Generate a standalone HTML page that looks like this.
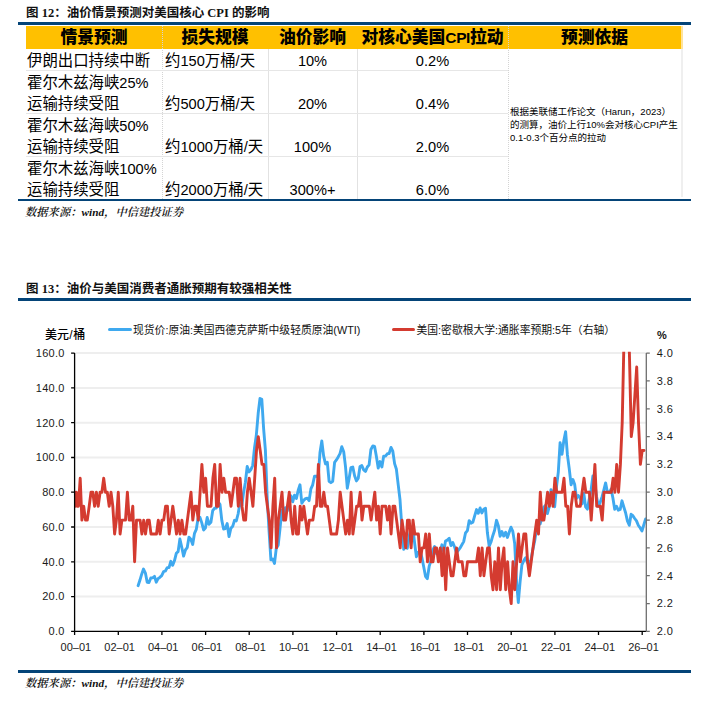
<!DOCTYPE html>
<html lang="zh-CN">
<head>
<meta charset="utf-8">
<title>油价情景预测</title>
<style>
html,body{margin:0;padding:0;background:#fff;}
body{width:712px;height:708px;position:relative;overflow:hidden;font-family:"Liberation Sans","Noto Sans CJK SC",sans-serif;color:#000;}
.abs{position:absolute;white-space:nowrap;}
.ttl{font-family:"Liberation Serif","Noto Sans CJK SC",serif;font-weight:700;font-size:12.5px;line-height:14px;color:#111;}
.bar{position:absolute;background:#044478;}
.src{font-family:"Liberation Serif","Noto Serif CJK SC",serif;font-style:italic;font-weight:600;font-size:11.3px;line-height:12px;color:#111;}
.hd{position:absolute;top:26px;height:23px;background:#FFC000;}
.ht{position:absolute;top:26px;height:23px;line-height:23px;font-weight:900;font-size:16.8px;text-align:center;}
.vl{position:absolute;width:1px;background:#e2e2e2;}
.vd{position:absolute;width:0;border-left:1px dotted #d4d4d4;}
.hl{position:absolute;height:1px;background:#e6e6e6;}
.td{position:absolute;font-size:15.4px;line-height:21px;}
.n{font-size:14.6px;}
.c{text-align:center;}
.lgt{font-size:10.8px;line-height:13px;color:#111;}
.unit{font-size:12px;line-height:14px;font-weight:500;color:#000;}
.unit2{font-size:11px;line-height:13px;font-weight:700;color:#111;}
.note{position:absolute;left:510px;top:104.6px;font-size:9.5px;line-height:13.2px;color:#000;}
</style>
</head>
<body>
<!-- Figure 12 -->
<div class="abs ttl" style="left:26px;top:6px;">图 12：油价情景预测对美国核心 CPI 的影响</div>
<div class="bar" style="left:18px;top:22px;width:673px;height:3px;"></div>

<div class="hd" style="left:26px;width:655px;"></div>
<div class="hd" style="left:681px;width:2px;background:#FFE39A;"></div>

<div class="ht" style="left:26px;width:136px;">情景预测</div>
<div class="ht" style="left:162px;width:106px;">损失规模</div>
<div class="ht" style="left:268px;width:89px;">油价影响</div>
<div class="ht" style="left:357px;width:151px;">对核心美国<span style="font-size:15.5px;letter-spacing:-0.4px;">CPI</span>拉动</div>
<div class="ht" style="left:508px;width:173px;">预测依据</div>

<div class="vd" style="left:162px;top:26px;height:173px;"></div>
<div class="vl" style="left:268px;top:49px;height:150px;"></div>
<div class="vl" style="left:357px;top:49px;height:150px;"></div>
<div class="vd" style="left:508px;top:26px;height:173px;"></div>
<div class="vl" style="left:681px;top:49px;width:2px;height:148px;background:#efefef;"></div>

<div class="hl" style="left:26px;top:70px;width:482px;"></div>
<div class="hl" style="left:26px;top:113px;width:482px;"></div>
<div class="hl" style="left:26px;top:156px;width:482px;"></div>

<div class="td" style="left:27px;top:49.5px;">伊朗出口持续中断</div>
<div class="td" style="left:165px;top:49.5px;">约<span class="n">150</span>万桶<span class="n">/</span>天</div>
<div class="td c" style="left:268px;width:89px;top:49.5px;"><span class="n">10%</span></div>
<div class="td c" style="left:357px;width:151px;top:49.5px;"><span class="n">0.2%</span></div>

<div class="td" style="left:27px;top:73.25px;line-height:20.5px;">霍尔木兹海峡<span class="n">25%</span><br>运输持续受阻</div>
<div class="td" style="left:165px;top:93px;">约<span class="n">500</span>万桶<span class="n">/</span>天</div>
<div class="td c" style="left:268px;width:89px;top:93px;"><span class="n">20%</span></div>
<div class="td c" style="left:357px;width:151px;top:93px;"><span class="n">0.4%</span></div>

<div class="td" style="left:27px;top:116.25px;line-height:20.5px;">霍尔木兹海峡<span class="n">50%</span><br>运输持续受阻</div>
<div class="td" style="left:165px;top:136px;">约<span class="n">1000</span>万桶<span class="n">/</span>天</div>
<div class="td c" style="left:268px;width:89px;top:136px;"><span class="n">100%</span></div>
<div class="td c" style="left:357px;width:151px;top:136px;"><span class="n">2.0%</span></div>

<div class="td" style="left:27px;top:159.25px;line-height:20.5px;">霍尔木兹海峡<span class="n">100%</span><br>运输持续受阻</div>
<div class="td" style="left:165px;top:179px;">约<span class="n">2000</span>万桶<span class="n">/</span>天</div>
<div class="td c" style="left:268px;width:89px;top:179px;"><span class="n">300%+</span></div>
<div class="td c" style="left:357px;width:151px;top:179px;"><span class="n">6.0%</span></div>

<div class="note">根据美联储工作论文（Harun，2023）<br>的测算，油价上行10%会对核心CPI产生<br>0.1-0.3个百分点的拉动</div>

<div class="bar" style="left:18px;top:199px;width:673px;height:2px;"></div>
<div class="abs src" style="left:25px;top:206px;">数据来源：<b>wind</b>，中信建投证券</div>

<!-- Figure 13 -->
<div class="abs ttl" style="left:26px;top:282px;">图 13：油价与美国消费者通胀预期有较强相关性</div>
<div class="bar" style="left:18px;top:298px;width:673px;height:3px;"></div>

<!--CHART-->
<svg class="abs" style="left:0;top:0" width="712" height="708" viewBox="0 0 712 708">
<defs><clipPath id="pc"><rect x="74.6" y="351.8" width="571.6999999999999" height="279.59999999999997"/></clipPath></defs>
<path d="M75.6 596.6H645.8 M75.6 561.8H645.8 M75.6 527.0H645.8 M75.6 492.2H645.8 M75.6 457.5H645.8 M75.6 422.7H645.8 M75.6 387.9H645.8 M75.6 353.1H645.8" stroke="#eeeeee" stroke-width="2" fill="none"/>
<g clip-path="url(#pc)" fill="none" stroke-width="2.9" stroke-linejoin="round" stroke-linecap="round">
<polyline points="138.1,585.7 139.9,580.3 141.7,574.2 143.5,569.0 145.4,573.0 147.2,582.2 149.0,582.5 150.8,578.0 152.6,577.8 154.5,576.4 156.3,582.2 158.1,578.7 159.9,577.3 161.7,575.6 163.6,571.7 165.4,571.0 167.2,567.6 169.0,567.6 170.8,561.3 172.7,565.3 174.5,560.6 176.3,553.3 178.1,551.6 179.9,539.0 181.7,547.0 183.6,556.1 185.4,550.0 187.2,547.7 189.0,537.1 190.8,539.2 192.7,544.4 194.5,533.3 196.3,529.3 198.1,518.3 199.9,517.3 201.8,522.9 203.6,530.0 205.4,528.1 207.2,517.5 209.0,524.3 210.9,522.3 212.7,510.7 214.5,508.3 216.3,508.1 218.1,502.0 220.0,504.4 221.8,520.4 223.6,529.0 225.4,528.6 227.2,523.6 229.0,536.6 230.9,528.3 232.7,526.3 234.5,520.3 236.3,520.9 238.1,514.0 240.0,502.5 241.8,505.5 243.6,492.4 245.4,482.2 247.2,466.5 249.1,471.9 250.9,469.6 252.7,465.5 254.5,447.9 256.3,435.5 258.2,413.3 260.0,398.5 261.8,399.4 263.6,428.4 265.4,450.3 267.2,498.2 269.1,531.7 270.9,559.9 272.7,558.9 274.5,563.4 276.3,548.1 278.2,545.1 280.0,528.8 281.8,510.3 283.6,519.9 285.4,507.7 287.3,510.7 289.1,499.7 290.9,495.7 292.7,501.8 294.5,495.2 296.4,498.5 298.2,490.2 300.0,484.8 301.8,503.2 303.6,500.4 305.5,498.7 307.3,498.2 309.1,500.6 310.9,488.9 312.7,484.8 314.5,476.2 316.4,476.2 318.2,477.3 320.0,452.4 321.8,440.9 323.6,455.9 325.5,463.9 327.3,462.2 329.1,481.3 330.9,482.7 332.7,481.3 334.6,462.3 336.4,459.9 338.2,456.9 340.0,453.6 341.8,446.7 343.7,451.7 345.5,466.7 347.3,488.2 349.1,478.5 350.9,467.7 352.8,467.0 354.6,475.7 356.4,480.9 358.2,478.5 360.0,466.5 361.8,465.6 363.7,469.8 365.5,471.4 367.3,467.0 369.1,464.8 370.9,449.5 372.8,446.0 374.6,446.5 376.4,456.6 378.2,468.1 380.0,461.6 381.9,466.9 383.7,456.1 385.5,456.1 387.3,453.8 389.1,453.6 391.0,447.4 392.8,451.2 394.6,463.6 396.4,469.3 398.2,484.6 400.0,499.6 401.9,528.3 403.7,549.3 405.5,543.4 407.3,548.3 409.1,536.6 411.0,528.3 412.8,527.4 414.6,542.9 416.4,556.8 418.2,552.3 420.1,551.0 421.9,557.7 423.7,566.7 425.5,576.3 427.3,578.7 429.2,566.2 431.0,560.4 432.8,550.2 434.6,546.5 436.4,553.6 438.3,553.6 440.1,552.8 441.9,544.8 443.7,551.9 445.5,541.0 447.3,540.1 449.2,538.3 451.0,545.6 452.8,542.5 454.6,547.0 456.4,552.8 458.3,550.3 460.1,547.9 461.9,544.8 463.7,541.6 465.5,533.0 467.4,530.7 469.2,520.6 471.0,523.2 472.8,522.3 474.6,516.1 476.5,509.6 478.3,513.3 480.1,507.9 481.9,512.9 483.7,509.3 485.5,508.3 487.4,532.8 489.2,546.2 491.0,542.0 492.8,535.7 494.6,530.2 496.5,520.3 498.3,525.6 500.1,536.3 501.9,531.6 503.7,536.1 505.6,532.3 507.4,537.5 509.2,532.3 511.0,527.2 512.8,531.4 514.7,543.6 516.5,580.6 518.3,602.5 520.1,581.7 521.9,564.8 523.8,560.6 525.6,557.8 527.4,562.5 529.2,562.9 531.0,560.1 532.8,549.6 534.7,541.0 536.5,528.8 538.3,523.0 540.1,524.1 541.9,518.0 543.8,507.2 545.6,505.3 547.4,513.6 549.2,506.9 551.0,489.6 552.9,493.6 554.7,506.7 556.5,486.7 558.3,472.1 560.1,442.7 562.0,454.3 563.8,440.8 565.6,431.7 567.4,454.7 569.2,468.4 571.1,484.8 572.9,479.6 574.7,484.6 576.5,498.5 578.3,495.6 580.1,497.8 582.0,503.9 583.8,493.3 585.6,506.9 587.4,509.1 589.2,499.2 591.1,490.0 592.9,475.9 594.7,482.5 596.5,496.3 598.3,506.3 600.2,502.3 602.0,496.9 603.8,490.0 605.6,482.9 607.4,492.2 609.3,492.6 611.1,489.1 612.9,498.0 614.7,509.3 616.5,506.3 618.3,510.2 620.2,509.5 622.0,500.8 623.8,507.0 625.6,512.8 627.4,520.9 629.3,525.3 631.1,514.3 632.9,515.7 634.7,518.5 636.5,520.9 638.4,525.5 640.2,527.9 642.0,530.9 643.8,524.8 645.6,518.9" stroke="#3FA9EF"/>
<polyline points="74.6,492.2 75.5,506.2 76.4,492.2 77.3,506.2 78.4,506.2 80.2,478.3 81.9,520.1 83.7,506.2 85.5,520.1 87.3,520.1 89.2,506.2 91.0,492.2 92.8,492.2 94.6,506.2 96.4,492.2 98.2,506.2 100.1,492.2 101.9,492.2 103.7,478.3 105.5,492.2 107.3,492.2 109.2,506.2 111.0,492.2 112.8,506.2 114.6,534.0 116.4,520.1 118.3,492.2 120.1,534.0 121.9,520.1 123.7,520.1 125.5,520.1 127.4,492.2 129.2,520.1 131.0,520.1 132.8,506.2 134.6,561.8 136.5,520.1 138.3,520.1 140.1,520.1 141.9,534.0 143.7,520.1 145.5,534.0 147.4,520.1 149.2,520.1 151.0,534.0 152.8,534.0 154.6,534.0 156.5,534.0 158.3,520.1 160.1,534.0 161.9,520.1 163.7,520.1 165.6,506.2 167.4,506.2 169.2,534.0 171.0,520.1 172.8,506.2 174.7,520.1 176.5,534.0 178.3,520.1 180.1,534.0 181.9,520.1 183.8,534.0 185.6,534.0 187.4,520.1 189.2,506.2 191.0,492.2 192.8,520.1 194.7,506.2 196.5,506.2 198.3,520.1 200.1,492.2 201.9,464.4 203.8,492.2 205.6,478.3 207.4,506.2 209.2,506.2 211.0,506.2 212.9,478.3 214.7,464.4 216.5,506.2 218.3,506.2 220.1,464.4 222.0,492.2 223.8,478.3 225.6,492.2 227.4,492.2 229.2,492.2 231.0,506.2 232.9,492.2 234.7,478.3 236.5,478.3 238.3,506.2 240.1,478.3 242.0,506.2 243.8,520.1 245.6,520.1 247.4,492.2 249.2,478.3 251.1,492.2 252.9,506.2 254.7,478.3 256.5,450.5 258.3,436.6 260.2,450.5 262.0,464.4 263.8,464.4 265.6,492.2 267.4,506.2 269.3,520.1 271.1,547.9 272.9,506.2 274.7,478.3 276.5,547.9 278.3,520.1 280.2,506.2 282.0,492.2 283.8,520.1 285.6,520.1 287.4,506.2 289.3,492.2 291.1,520.1 292.9,534.0 294.7,506.2 296.5,534.0 298.4,534.0 300.2,506.2 302.0,520.1 303.8,506.2 305.6,520.1 307.5,534.0 309.3,520.1 311.1,520.1 312.9,520.1 314.7,506.2 316.5,506.2 318.4,464.4 320.2,506.2 322.0,506.2 323.8,492.2 325.6,506.2 327.5,506.2 329.3,520.1 331.1,534.0 332.9,534.0 334.7,534.0 336.6,534.0 338.4,520.1 340.2,492.2 342.0,506.2 343.8,520.1 345.7,534.0 347.5,520.1 349.3,534.0 351.1,492.2 352.9,534.0 354.8,520.1 356.6,506.2 358.4,506.2 360.2,492.2 362.0,520.1 363.8,506.2 365.7,506.2 367.5,506.2 369.3,506.2 371.1,520.1 372.9,506.2 374.8,492.2 376.6,520.1 378.4,506.2 380.2,534.0 382.0,506.2 383.9,506.2 385.7,506.2 387.5,520.1 389.3,506.2 391.1,534.0 393.0,506.2 394.8,506.2 396.6,520.1 398.4,534.0 400.2,547.9 402.0,520.1 403.9,534.0 405.7,547.9 407.5,520.1 409.3,520.1 411.1,547.9 413.0,520.1 414.8,534.0 416.6,534.0 418.4,534.0 420.2,561.8 422.1,547.9 423.9,547.9 425.7,534.0 427.5,561.8 429.3,534.0 431.2,561.8 433.0,561.8 434.8,547.9 436.6,547.9 438.4,561.8 440.3,547.9 442.1,575.7 443.9,547.9 445.7,589.7 447.5,547.9 449.3,561.8 451.2,575.7 453.0,575.7 454.8,561.8 456.6,547.9 458.4,561.8 460.3,561.8 462.1,561.8 463.9,575.7 465.7,575.7 467.5,561.8 469.4,561.8 471.2,561.8 473.0,561.8 474.8,561.8 476.6,561.8 478.5,547.9 480.3,575.7 482.1,547.9 483.9,575.7 485.7,561.8 487.6,547.9 489.4,547.9 491.2,575.7 493.0,589.7 494.8,561.8 496.6,589.7 498.5,547.9 500.3,589.7 502.1,561.8 503.9,547.9 505.7,589.7 507.6,561.8 509.4,589.7 511.2,603.6 513.0,561.8 514.8,589.7 516.7,561.8 518.5,534.0 520.3,561.8 522.1,547.9 523.9,534.0 525.8,534.0 527.6,561.8 529.4,575.7 531.2,561.8 533.0,547.9 534.8,534.0 536.7,520.1 538.5,534.0 540.3,492.2 542.1,520.1 543.9,520.1 545.8,506.2 547.6,492.2 549.4,506.2 551.2,492.2 553.0,506.2 554.9,478.3 556.7,492.2 558.5,492.2 560.3,492.2 562.1,492.2 564.0,478.3 565.8,506.2 567.6,506.2 569.4,534.0 571.2,506.2 573.1,492.2 574.9,492.2 576.7,506.2 578.5,506.2 580.3,506.2 582.1,492.2 584.0,478.3 585.8,492.2 587.6,492.2 589.4,492.2 591.2,520.1 593.1,492.2 594.9,464.4 596.7,506.2 598.5,506.2 600.3,506.2 602.2,520.1 604.0,492.2 605.8,492.2 607.6,492.2 609.4,492.2 611.3,492.2 613.1,478.3 614.9,492.2 616.7,464.4 618.5,492.2 620.4,464.4 622.2,422.7 624.0,339.2 625.8,297.4 627.6,325.3 629.4,353.1 631.3,436.6 633.1,422.7 634.9,394.8 636.7,367.0 638.5,422.7 640.4,464.4 642.2,450.5 644.0,450.5" stroke="#D43B30"/>
</g>
<path d="M74.6 353.0V631.4 M71.1 631.4H74.6 M71.1 596.6H74.6 M71.1 561.8H74.6 M71.1 527.0H74.6 M71.1 492.2H74.6 M71.1 457.5H74.6 M71.1 422.7H74.6 M71.1 387.9H74.6 M71.1 353.1H74.6 M74.6 631.4H646.3 M74.6 631.4V634.9 M118.3 631.4V634.9 M161.9 631.4V634.9 M205.6 631.4V634.9 M249.2 631.4V634.9 M292.9 631.4V634.9 M336.6 631.4V634.9 M380.2 631.4V634.9 M423.9 631.4V634.9 M467.5 631.4V634.9 M511.2 631.4V634.9 M554.9 631.4V634.9 M598.5 631.4V634.9 M642.2 631.4V634.9" stroke="#000" stroke-width="1.3" fill="none"/>
<path d="M646.3 353.0V631.4 M646.3 631.4H649.8 M646.3 603.6H649.8 M646.3 575.7H649.8 M646.3 547.9H649.8 M646.3 520.1H649.8 M646.3 492.2H649.8 M646.3 464.4H649.8 M646.3 436.6H649.8 M646.3 408.8H649.8 M646.3 380.9H649.8 M646.3 353.1H649.8" stroke="#6e6e6e" stroke-width="1.3" fill="none"/>
<g font-family="Liberation Sans, Arial, sans-serif" font-size="11" fill="#1a1a1a">
<text x="64.6" y="635.2" text-anchor="end" letter-spacing="0.25">0.0</text>
<text x="64.6" y="600.4" text-anchor="end" letter-spacing="0.25">20.0</text>
<text x="64.6" y="565.6" text-anchor="end" letter-spacing="0.25">40.0</text>
<text x="64.6" y="530.8" text-anchor="end" letter-spacing="0.25">60.0</text>
<text x="64.6" y="496.1" text-anchor="end" letter-spacing="0.25">80.0</text>
<text x="64.6" y="461.3" text-anchor="end" letter-spacing="0.25">100.0</text>
<text x="64.6" y="426.5" text-anchor="end" letter-spacing="0.25">120.0</text>
<text x="64.6" y="391.7" text-anchor="end" letter-spacing="0.25">140.0</text>
<text x="64.6" y="356.9" text-anchor="end" letter-spacing="0.25">160.0</text>
<text x="656.8" y="635.2" letter-spacing="0.4">2.0</text>
<text x="656.8" y="607.4" letter-spacing="0.4">2.2</text>
<text x="656.8" y="579.5" letter-spacing="0.4">2.4</text>
<text x="656.8" y="551.7" letter-spacing="0.4">2.6</text>
<text x="656.8" y="523.9" letter-spacing="0.4">2.8</text>
<text x="656.8" y="496.1" letter-spacing="0.4">3.0</text>
<text x="656.8" y="468.2" letter-spacing="0.4">3.2</text>
<text x="656.8" y="440.4" letter-spacing="0.4">3.4</text>
<text x="656.8" y="412.6" letter-spacing="0.4">3.6</text>
<text x="656.8" y="384.7" letter-spacing="0.4">3.8</text>
<text x="656.8" y="356.9" letter-spacing="0.4">4.0</text>
<text x="75.9" y="651" text-anchor="middle">00–01</text>
<text x="119.6" y="651" text-anchor="middle">02–01</text>
<text x="163.2" y="651" text-anchor="middle">04–01</text>
<text x="206.9" y="651" text-anchor="middle">06–01</text>
<text x="250.5" y="651" text-anchor="middle">08–01</text>
<text x="294.2" y="651" text-anchor="middle">10–01</text>
<text x="337.9" y="651" text-anchor="middle">12–01</text>
<text x="381.5" y="651" text-anchor="middle">14–01</text>
<text x="425.2" y="651" text-anchor="middle">16–01</text>
<text x="468.8" y="651" text-anchor="middle">18–01</text>
<text x="512.5" y="651" text-anchor="middle">20–01</text>
<text x="556.2" y="651" text-anchor="middle">22–01</text>
<text x="599.8" y="651" text-anchor="middle">24–01</text>
<text x="643.5" y="651" text-anchor="middle">26–01</text>
</g>
</svg>
<div class="abs" style="left:108px;top:328px;width:24px;height:3px;border-radius:1.5px;background:#3FA9EF;"></div>
<div class="abs lgt" style="left:133px;top:323.5px;">现货价:原油:美国西德克萨斯中级轻质原油(WTI)</div>
<div class="abs" style="left:392px;top:328px;width:23px;height:3px;border-radius:1.5px;background:#D43B30;"></div>
<div class="abs lgt" style="left:416.5px;top:323.5px;">美国:密歇根大学:通胀率预期:5年（右轴）</div>
<div class="abs unit" style="left:45px;top:328px;">美元<span style="margin:0 0.5px 0 0.3px;">/</span>桶</div>
<div class="abs unit2" style="left:657px;top:329px;">%</div>

<!--/CHART--><!--/CHART--><!--/CHART--><!--/CHART--><!--/CHART--><!--/CHART--><!--/CHART--><!--/CHART--><!--/CHART--><!--/CHART--><!--/CHART--><!--/CHART--><!--/CHART--><!--/CHART--><!--/CHART-->

<div class="bar" style="left:18px;top:670px;width:673px;height:3px;"></div>
<div class="abs src" style="left:25px;top:677px;">数据来源：<b>wind</b>，中信建投证券</div>
</body>
</html>
